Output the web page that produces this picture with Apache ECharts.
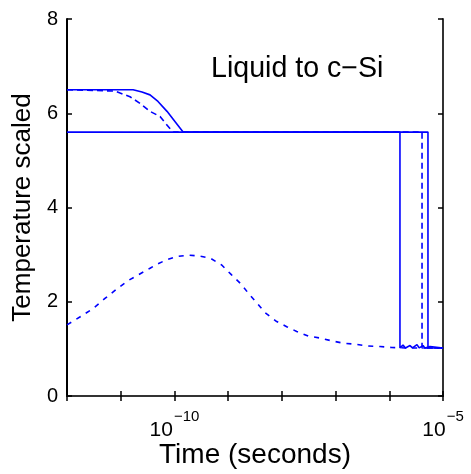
<!DOCTYPE html>
<html><head><meta charset="utf-8">
<script src="https://cdn.jsdelivr.net/npm/echarts@6/dist/echarts.min.js"></script>
<style>html,body{margin:0;padding:0;background:#fff}#c{width:471px;height:474px}</style>
</head><body><div id="c"></div>
<script>
// Solid curve A (starts at 6.5, cools to 5.6, drops late)
const solidATime  = [1e-12, 1.70e-11, 2.49e-11, 3.51e-11, 4.94e-11, 7.28e-11, 1.03e-10, 1.45e-10, 5.25e-6, 5.25e-6, 1e-5];
const solidAValue = [6.5, 6.5, 6.45, 6.39, 6.25, 6.04, 5.82, 5.6, 5.6, 1.02, 1.02];
// Solid curve B (flat at 5.6, drops first)
const solidBTime  = [1e-12, 1.58e-6, 1.58e-6, 1.80e-6, 2.0e-6, 2.43e-6, 2.7e-6, 3.28e-6, 3.6e-6, 4.25e-6, 4.6e-6, 5.73e-6, 6.2e-6, 1e-5];
const solidBValue = [5.6, 5.6, 1.02, 1.08, 1.02, 1.07, 1.02, 1.09, 1.02, 1.07, 1.02, 1.05, 1.02, 1.02];
// Dashed curve C (starts at 6.5, cools to 5.6 earlier)
const dashCTime  = [1e-12, 7.83e-12, 1.49e-11, 2.29e-11, 3.51e-11, 5.40e-11, 6.68e-11, 8.63e-11, 9.5e-11, 4.07e-6, 4.07e-6, 1e-5];
const dashCValue = [6.5, 6.47, 6.35, 6.21, 6.04, 5.93, 5.80, 5.65, 5.6, 5.6, 1.02, 1.02];
// Dashed curve D (lower hump)
const dashDTime  = [1e-12, 1.88e-12, 3.09e-12, 5.09e-12, 8.41e-12, 1.38e-11, 2.12e-11, 3.51e-11, 4.80e-11, 7.18e-11,
                    1.13e-10, 1.81e-10, 2.90e-10, 4.73e-10, 7.59e-10, 1.16e-9, 1.79e-9, 2.38e-9, 3.40e-9, 4.85e-9,
                    8.02e-9, 1.23e-8, 1.89e-8, 3.11e-8, 5.13e-8, 8.47e-8, 1.39e-7, 2.30e-7, 4.07e-7, 6.73e-7,
                    1.11e-6, 2.0e-6, 1e-5];
const dashDValue = [1.51, 1.70, 1.86, 2.07, 2.27, 2.45, 2.57, 2.71, 2.80, 2.89,
                    2.96, 2.99, 2.97, 2.92, 2.78, 2.57, 2.36, 2.18, 1.98, 1.77,
                    1.58, 1.47, 1.37, 1.27, 1.23, 1.17, 1.12, 1.10, 1.06, 1.05,
                    1.03, 1.02, 1.02];
// Axis labels
const xLabelExponents = [-10, -5];
const yTicks = [0, 2, 4, 6, 8];
const xTitle = 'Time (seconds)';
const yTitle = 'Temperature scaled';
const annotation = 'Liquid to c\u2212Si';

const FONT = 'Liberation Sans, Arial, Helvetica, sans-serif';
const BLUE = '#0000ff';
const zip = (t, v) => t.map((x, i) => [x, v[i]]);

const chart = echarts.init(document.getElementById('c'), null, {renderer: 'canvas'});
const axisLine = {show: true, lineStyle: {color: '#000', width: 2}};
chart.setOption({
  animation: false,
  backgroundColor: '#fff',
  title: {
    text: annotation, left: 206, top: 50,
    textStyle: {fontFamily: FONT, fontSize: 28.6, fontWeight: 'normal', color: '#000'}
  },
  grid: {left: 67, top: 19, right: 28, bottom: 78, containLabel: false, outerBoundsMode: 'none'},
  xAxis: [{
    type: 'log', logBase: 10, min: 1e-12, max: 1e-5, interval: 1,
    position: 'bottom',
    axisLine: axisLine,
    axisTick: {show: true, inside: true, length: 5, lineStyle: {color: '#000', width: 1.5}},
    splitLine: {show: false}, minorTick: {show: false},
    name: xTitle, nameLocation: 'middle', nameGap: 45, nameMoveOverlap: false,
    nameTextStyle: {fontFamily: FONT, fontSize: 28, color: '#000'},
    axisLabel: {
      margin: 13, showMinLabel: true, showMaxLabel: true, hideOverlap: false,
      formatter: function (v) {
        const e = Math.round(Math.log10(v));
        if (xLabelExponents.indexOf(e) < 0) return '';
        return '{b|10}{s|\u2212' + (-e) + '}';
      },
      rich: {
        b: {fontFamily: FONT, fontSize: 21, color: '#000', lineHeight: 22, verticalAlign: 'bottom'},
        s: {fontFamily: FONT, fontSize: 15, color: '#000', lineHeight: 32, verticalAlign: 'top', padding: [0, 0, 0, 1]}
      }
    }
  }, {
    type: 'log', logBase: 10, min: 1e-12, max: 1e-5, interval: 1,
    position: 'top',
    axisLine: {show: true, lineStyle: {color: '#333', width: 2}},
    axisTick: {show: true, inside: true, length: 5, lineStyle: {color: '#000', width: 1.5}},
    axisLabel: {show: false}, splitLine: {show: false}
  }],
  yAxis: [{
    type: 'value', min: 0, max: 8, interval: 2,
    axisLine: axisLine,
    axisTick: {show: true, inside: true, length: 5, lineStyle: {color: '#000', width: 1.5}},
    splitLine: {show: false},
    axisLabel: {margin: 9, fontFamily: FONT, fontSize: 20, color: '#000',
      formatter: v => (yTicks.indexOf(v) >= 0 ? String(v) : '')},
    name: yTitle, nameLocation: 'middle', nameGap: 31, nameMoveOverlap: false,
    nameTextStyle: {fontFamily: FONT, fontSize: 26, color: '#000'}
  }, {
    type: 'value', min: 0, max: 8, interval: 2, position: 'right',
    axisLine: {show: true, lineStyle: {color: '#333', width: 2}},
    axisTick: {show: true, inside: true, length: 5, lineStyle: {color: '#000', width: 1.5}},
    axisLabel: {show: false}, splitLine: {show: false}
  }],
  series: [
    {type: 'line', data: zip(dashDTime, dashDValue), symbol: 'none', z: 2,
     lineStyle: {color: BLUE, width: 1.6, type: [5, 6]}},
    {type: 'line', data: zip(dashCTime, dashCValue), symbol: 'none', z: 2,
     lineStyle: {color: BLUE, width: 1.6, type: [6, 4]}},
    {type: 'line', data: zip(solidBTime, solidBValue), symbol: 'none', z: 3,
     lineStyle: {color: BLUE, width: 1.6}},
    {type: 'line', data: zip(solidATime, solidAValue), symbol: 'none', z: 3,
     lineStyle: {color: BLUE, width: 1.6}}
  ]
});
</script>
</body></html>
